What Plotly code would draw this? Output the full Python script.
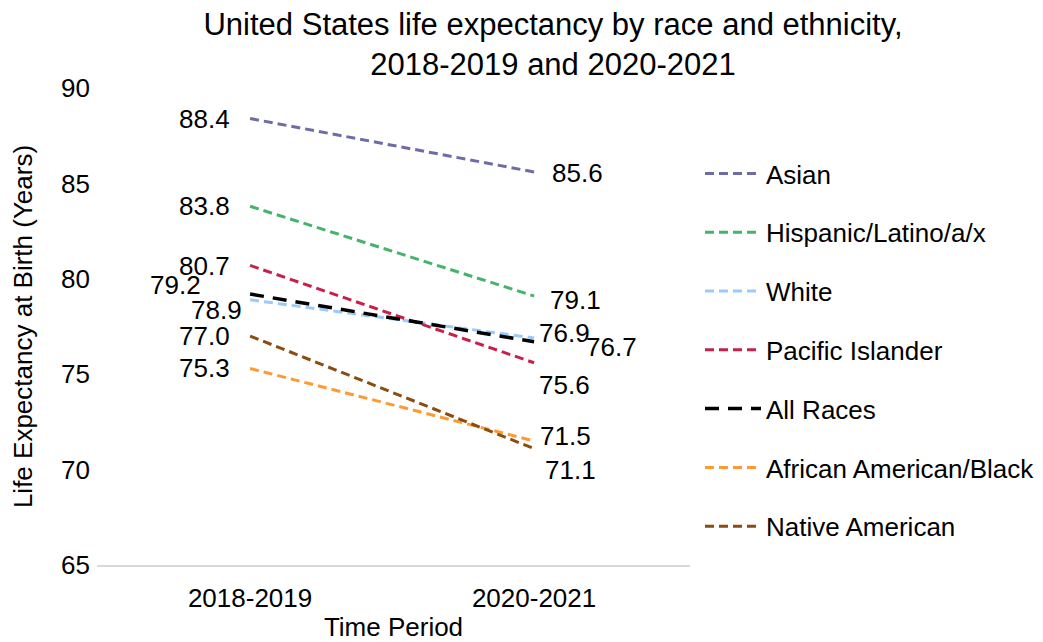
import plotly.graph_objects as go

# ---- data ----
periods = ["2018-2019", "2020-2021"]
series_names = ["Asian", "Hispanic/Latino/a/x", "White", "Pacific Islander",
                "All Races", "African American/Black", "Native American"]
asian = [88.4, 85.6]
hispanic = [83.8, 79.1]
white = [78.9, 76.9]
pacific = [80.7, 75.6]
all_races = [79.2, 76.7]
african = [75.3, 71.5]
native = [77.0, 71.1]
y_ticks = [65, 70, 75, 80, 85, 90]

series_values = [asian, hispanic, white, pacific, all_races, african, native]

# ---- styles ----
colors = ["#6E6CA6", "#45B36B", "#9CCBFA", "#C8204B", "#000000", "#FF9A33", "#8B4C10"]
dashes = ["9px,5px"] * 4 + ["14px,9px"] + ["9px,5px"] * 2
widths = [3, 3, 3, 3, 3.5, 3, 3]
# label offsets (xshift, yshift) in px for [left label, right label]
label_offsets = [
    [(-18, 0), (16, -1)],
    [(-18, 0), (14, -4)],
    [(-6, -10), (3, 5)],
    [(-18, -1), (3, -22)],
    [(-47, 9), (50, -5)],
    [(-18, 0), (4, 5)],
    [(-18, 0), (9, -21)],
]

FONT = "Arial, 'Liberation Sans', sans-serif"

fig = go.Figure()
for i, (name, vals) in enumerate(zip(series_names, series_values)):
    fig.add_trace(go.Scatter(
        x=periods, y=vals, mode="lines", name=name,
        legendgroup=name,
        line=dict(color=colors[i], dash=dashes[i], width=widths[i]),
        hoverinfo="x+y+name",
    ))
    for j in range(2):
        xs, ys = label_offsets[i][j]
        fig.add_annotation(
            x=periods[j], y=vals[j], xref="x", yref="y",
            text=f"{vals[j]:.1f}", showarrow=False,
            xanchor="right" if j == 0 else "left", yanchor="middle",
            xshift=xs, yshift=ys,
            font=dict(family=FONT, size=26, color="#000000"),
        )

fig.update_layout(
    width=1043, height=642,
    margin=dict(l=97, r=353, t=88, b=77, autoexpand=False),
    paper_bgcolor="white", plot_bgcolor="white",
    font=dict(family=FONT, size=26, color="#000000"),
    title=dict(
        text="United States life expectancy by race and ethnicity,<br>2018-2019 and 2020-2021",
        x=553 / 1043, xanchor="center", xref="container",
        y=1 - 35 / 642, yanchor="middle", yref="container",
        font=dict(family=FONT, size=31, color="#000000"),
    ),
    xaxis=dict(
        type="category", range=[-0.539, 1.549],
        showgrid=False, zeroline=False,
        showline=True, linecolor="#D9D9D9", linewidth=1.5,
        ticks="", ticklabelstandoff=9,
        tickfont=dict(family=FONT, size=26, color="#000000"),
        title=dict(text="Time Period", standoff=20,
                   font=dict(family=FONT, size=26, color="#000000")),
        automargin=False, fixedrange=True,
    ),
    yaxis=dict(
        range=[65, 90], tickvals=y_ticks, ticktext=[str(v) for v in y_ticks],
        showgrid=False, zeroline=False, showline=False,
        ticks="", ticklabelstandoff=6,
        tickfont=dict(family=FONT, size=26, color="#000000"),
        title=dict(text="Life Expectancy at Birth (Years)", standoff=20,
                   font=dict(family=FONT, size=26, color="#000000")),
        automargin=False, fixedrange=True,
    ),
    legend=dict(
        x=(700 - 97) / 593, xanchor="left",
        y=1 - (150 - 88) / 477, yanchor="top",
        traceorder="grouped", tracegroupgap=22,
        itemwidth=56,
        font=dict(family=FONT, size=26, color="#000000"),
        bgcolor="rgba(0,0,0,0)",
    ),
    showlegend=True,
)

fig.write_html(
    "out.html",
    config={"displayModeBar": False},
    post_script="document.body.style.margin='0';document.body.style.padding='0';",
)
